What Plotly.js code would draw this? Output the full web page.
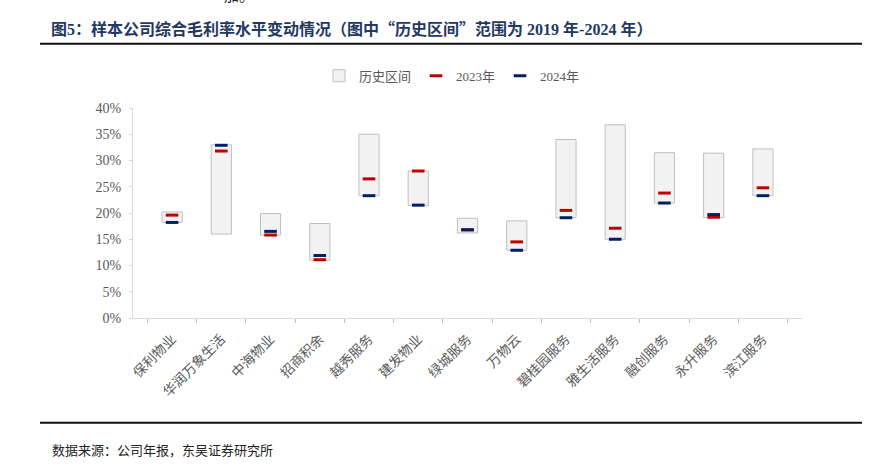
<!DOCTYPE html>
<html>
<head>
<meta charset="utf-8">
<script src="https://cdn.plot.ly/plotly-3.0.1.min.js"></script>
<style>html,body{margin:0;padding:0;background:#fff;}#chart{width:883px;height:467px;}</style>
</head>
<body>
<div id="chart"></div>
<script>
const companies = ["保利物业","华润万象生活","中海物业","招商积余","越秀服务","建发物业","绿城服务","万物云","碧桂园服务","雅生活服务","融创服务","永升服务","滨江服务"];
const histHigh = [20.2, 33.0, 19.9, 18.0, 35.0, 28.0, 19.0, 18.5, 34.0, 36.8, 31.5, 31.4, 32.2];
const histLow  = [18.2, 16.0, 15.8, 11.0, 23.3, 21.4, 16.2, 12.9, 19.1, 15.0, 21.9, 19.1, 23.3];
const gm2023   = [19.6, 31.8, 15.8, 11.1, 26.5, 28.0, 16.8, 14.5, 20.5, 17.1, 23.8, 19.2, 24.8];
const gm2024   = [18.2, 32.9, 16.5, 11.9, 23.3, 21.5, 16.8, 12.9, 19.1, 15.0, 21.9, 19.7, 23.3];

const L = 133, R = 802, T = 108.3, B = 318.5;
const W = R - L, H = B - T;
const px = x => (x - L) / W;
const py = y => (B - y) / H;

const serif = "Liberation Serif, 'Noto Sans CJK SC', serif";
const cjk = "'Liberation Serif', 'Noto Sans CJK SC', sans-serif";
const cjkFirst = "'Noto Sans CJK SC', sans-serif";

const traces = [
  {
    type: "bar", name: "历史区间", x: companies,
    y: histHigh.map((h, i) => h - histLow[i]), base: histLow,
    width: 0.41,
    marker: {color: "#f2f2f2", line: {color: "#bfbfbf", width: 1}},
    hoverinfo: "skip"
  },
  {
    type: "scatter", mode: "markers", name: "2023年", x: companies, y: gm2023,
    marker: {symbol: "line-ew", size: 9, color: "#c00000", line: {color: "#c00000", width: 3}},
    hoverinfo: "skip"
  },
  {
    type: "scatter", mode: "markers", name: "2024年", x: companies, y: gm2024,
    marker: {symbol: "line-ew", size: 9, color: "#002060", line: {color: "#002060", width: 3}},
    hoverinfo: "skip"
  }
];

const layout = {
  width: 883, height: 467,
  margin: {l: L, r: 883 - R, t: T, b: 467 - B, pad: 0},
  paper_bgcolor: "#fff", plot_bgcolor: "#fff",
  showlegend: true,
  legend: {
    orientation: "h", x: px(452), xanchor: "center", y: py(76), yanchor: "middle",
    font: {family: cjk, size: 13, color: "#595959"},
    itemwidth: 30, tracegroupgap: 0
  },
  title: {
    text: "<b>图5：样本公司综合毛利率水平变动情况（图中<span style=\"font-family:'Noto Sans CJK SC'\">“</span>历史区间<span style=\"font-family:'Noto Sans CJK SC'\">”</span>范围为 2019 年-2024 年）</b>",
    x: 51 / 883, xanchor: "left", xref: "container",
    y: 1 - 29 / 467, yanchor: "middle", yref: "container",
    font: {family: cjk, size: 16, color: "#1f3864"}
  },
  xaxis: {
    type: "category", tickangle: -45,
    tickson: "boundaries", ticks: "outside", ticklen: 4, tickcolor: "#bfbfbf",
    ticklabelstandoff: 7,
    showline: true, linecolor: "#d9d9d9", linewidth: 1,
    showgrid: false, zeroline: false,
    tickfont: {family: cjk, size: 13.5, color: "#595959"},
    fixedrange: true
  },
  yaxis: {
    range: [0, 40], dtick: 5, ticksuffix: "%",
    showline: true, linecolor: "#d9d9d9", linewidth: 1,
    ticks: "outside", ticklen: 3, tickcolor: "#d9d9d9",
    ticklabelstandoff: 5,
    showgrid: false, zeroline: false,
    tickfont: {family: serif, size: 14, color: "#595959"},
    fixedrange: true
  },
  shapes: [
    {type: "line", xref: "paper", yref: "paper", x0: px(40), x1: px(862), y0: py(44), y1: py(44), line: {color: "#111", width: 2}},
    {type: "line", xref: "paper", yref: "paper", x0: px(40), x1: px(862), y0: py(423.3), y1: py(423.3), line: {color: "#111", width: 2}}
  ],
  annotations: [
    {xref: "paper", yref: "paper", x: px(50), y: py(451.5), xanchor: "left", yanchor: "middle",
     text: "数据来源：公司年报，东吴证券研究所", showarrow: false,
     font: {family: cjk, size: 13, color: "#222"}},
    {xref: "paper", yref: "paper", x: px(222), y: py(6), xanchor: "left", yanchor: "bottom",
     text: "加。", showarrow: false, font: {family: cjk, size: 15, color: "#222"}}
  ]
};

Plotly.newPlot("chart", traces, layout, {displayModeBar: false, staticPlot: true});
</script>
</body>
</html>
